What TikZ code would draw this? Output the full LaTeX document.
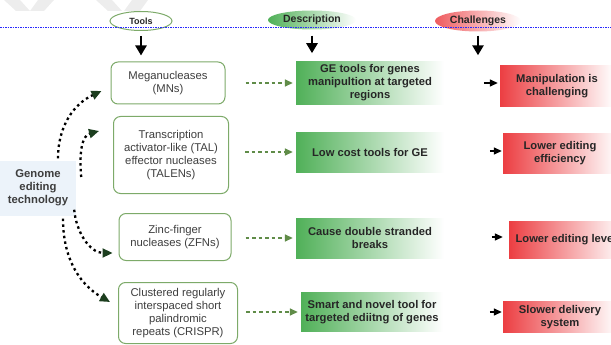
\documentclass[tikz,border=0pt]{standalone}
\usepackage{fontspec}
\setmainfont{Liberation Sans}
\usetikzlibrary{arrows.meta,shapes.geometric}

\definecolor{toolgreen}{RGB}{125,170,105}
\definecolor{descgreen}{RGB}{80,176,88}
\definecolor{chalred}{RGB}{236,62,66}
\definecolor{dashgreen}{RGB}{96,140,72}
\definecolor{headgreen}{RGB}{28,62,30}
\definecolor{genblue}{RGB}{236,243,250}
\definecolor{txtgray}{RGB}{62,62,62}
\definecolor{rulebl}{RGB}{40,40,255}

\tikzset{
  toolbox/.style={draw=toolgreen, line width=1pt, rounded corners=7pt, fill=white,
    align=center, text=txtgray, font=\fontsize{11.3}{13}\selectfont},
  descbox/.style={left color=descgreen, middle color=descgreen!85, right color=white,
    align=center, text=black!85, minimum width=148pt,
    font=\bfseries\fontsize{11.2}{13}\selectfont},
  chalbox/.style={left color=chalred, middle color=chalred!62, right color=white,
    align=center, text=black!85, minimum width=114pt,
    font=\bfseries\fontsize{11.2}{13}\selectfont},
  headell/.style={ellipse, inner sep=0pt, text=black!85, font=\bfseries\fontsize{10.5}{12}\selectfont},
  downarr/.style={line width=2.6pt, -{Triangle[length=10pt,width=11pt]}},
  gdash/.style={dashgreen, line width=1.6pt, dash pattern=on 3.5pt off 3pt,
    -{Triangle[length=8pt,width=7pt,color=dashgreen]}},
  kdots/.style={line width=2.3pt, dash pattern=on 2.5pt off 3.2pt,
    -{Triangle[length=10pt,width=9pt,color=headgreen]}},
  blkhead/.style={line width=1.4pt, -{Triangle[length=8pt,width=7pt]}}
}

\begin{document}
\begin{tikzpicture}[x=1pt,y=-1pt]
  \useasboundingbox (0,0) rectangle (611,345);
  % faint marks at the top
  \fill[gray!14] (4,0) -- (20,0) -- (30,11) -- (16,11) -- cycle;
  \fill[gray!14] (38,0) -- (54,0) -- (44,11) -- (30,11) -- cycle;
  \fill[gray!14] (96,0) -- (112,0) -- (122,11) -- (108,11) -- cycle;
  \fill[gray!14] (132,0) -- (148,0) -- (140,11) -- (124,11) -- cycle;

  % headers
  \node[headell, draw=toolgreen, line width=1pt, fill=white, minimum width=62pt, minimum height=19pt] (tools) at (141,21) {\fontsize{9}{10}\selectfont Tools};
  \node[headell, left color=descgreen, middle color=descgreen!80, right color=white, minimum width=88pt, minimum height=19pt] (desc) at (312,20) {Description};
  \node[headell, left color=chalred!85, middle color=chalred!75, right color=white, minimum width=86pt, minimum height=21pt] (chal) at (478,21) {Challenges};

  % tools
  \node[toolbox, minimum width=114pt, minimum height=42pt] (mn) at (168,83) {Meganucleases\\(MNs)};
  \node[toolbox, minimum width=115pt, minimum height=77pt] (tal) at (171,155) {Transcription\\activator-like (TAL)\\effector nucleases\\(TALENs)};
  \node[toolbox, minimum width=112pt, minimum height=47pt] (zfn) at (175,237) {Zinc-finger\\nucleases (ZFNs)};
  \node[toolbox, minimum width=119pt, minimum height=61pt] (crispr) at (178,313) {Clustered regularly\\interspaced short\\palindromic\\repeats (CRISPR)};

  % descriptions
  \node[descbox, minimum height=41pt] (d1) at (370,83) {GE tools for genes\\manipultion at targeted\\regions};
  \node[descbox, minimum height=40pt] (d2) at (370,152) {Low cost tools for GE};
  \node[descbox, minimum height=40pt] (d3) at (370,238) {Cause double stranded\\breaks};
  \node[descbox, minimum width=142pt, minimum height=39pt] (d4) at (372,312) {Smart and novel tool for\\targeted ediitng of genes};

  % challenges
  \node[chalbox, minimum height=41pt] (c1) at (557,86) {Manipulation is\\challenging};
  \node[chalbox, minimum height=40pt] (c2) at (560,153) {Lower editing\\efficiency};
  \node[chalbox, minimum height=37pt] (c3) at (566,240) {Lower editing level};
  \node[chalbox, minimum height=30pt] (c4) at (560,317) {Slower delivery\\system};

  % genome editing technology
  \node[fill=genblue, align=center, text=txtgray, minimum width=76pt, minimum height=55pt,
    font=\bfseries\fontsize{11.3}{13}\selectfont] (gen) at (38,188) {Genome\\editing\\technology};

  % down arrows
  \draw[downarr, shorten <=5pt, shorten >=6pt] (tools.south) -- (tools.south |- mn.north);
  \draw[downarr, shorten <=6pt, shorten >=8pt] (desc.south) -- (desc.south |- d1.north);
  \draw[downarr, shorten <=4pt, shorten >=10pt] (chal.south) -- (chal.south |- c1.north);

  % tools to descriptions
  \draw[gdash, shorten <=20pt, shorten >=3pt] (mn.east |- d1.west) -- (d1.west);
  \draw[gdash, shorten <=16pt, shorten >=3pt] (tal.east |- d2.west) -- (d2.west);
  \draw[gdash, shorten <=14pt, shorten >=3pt] (zfn.east |- d3.west) -- (d3.west);
  \draw[gdash, shorten <=8pt, shorten >=3pt] (crispr.east |- d4.west) -- (d4.west);

  % into challenges
  \draw[blkhead] ([xshift=-16pt,yshift=3pt]c1.west) -- ([xshift=-2pt,yshift=3pt]c1.west);
  \draw[blkhead] ([xshift=-13pt,yshift=2pt]c2.west) -- ([xshift=-1pt,yshift=2pt]c2.west);
  \draw[blkhead] ([xshift=-17pt,yshift=3pt]c3.west) -- ([xshift=-6pt,yshift=3pt]c3.west);
  \draw[blkhead] ([xshift=-13pt,yshift=5pt]c4.west) -- ([xshift=-1pt,yshift=5pt]c4.west);

  % curved dotted arrows
  \draw[kdots] ([xshift=20pt,yshift=2pt]gen.north) to[out=90,in=205] ([xshift=-9pt,yshift=-8pt]mn.west);
  \draw[kdots] ([xshift=5pt,yshift=11pt]gen.east) to[out=95,in=195] ([xshift=-14pt,yshift=24pt]tal.west);
  \draw[kdots] ([xshift=-2pt,yshift=6pt]gen.south east) to[out=-85,in=180] ([xshift=-6pt,yshift=-16pt]zfn.west);
  \draw[kdots] ([xshift=25pt,yshift=-3pt]gen.south) to[out=-90,in=150] ([xshift=-8pt,yshift=11pt]crispr.west);

  % blue rule
  \draw[rulebl, line width=0.7pt, dash pattern=on 1.5pt off 1pt] (0,27) -- (611,27);
\end{tikzpicture}
\end{document}
